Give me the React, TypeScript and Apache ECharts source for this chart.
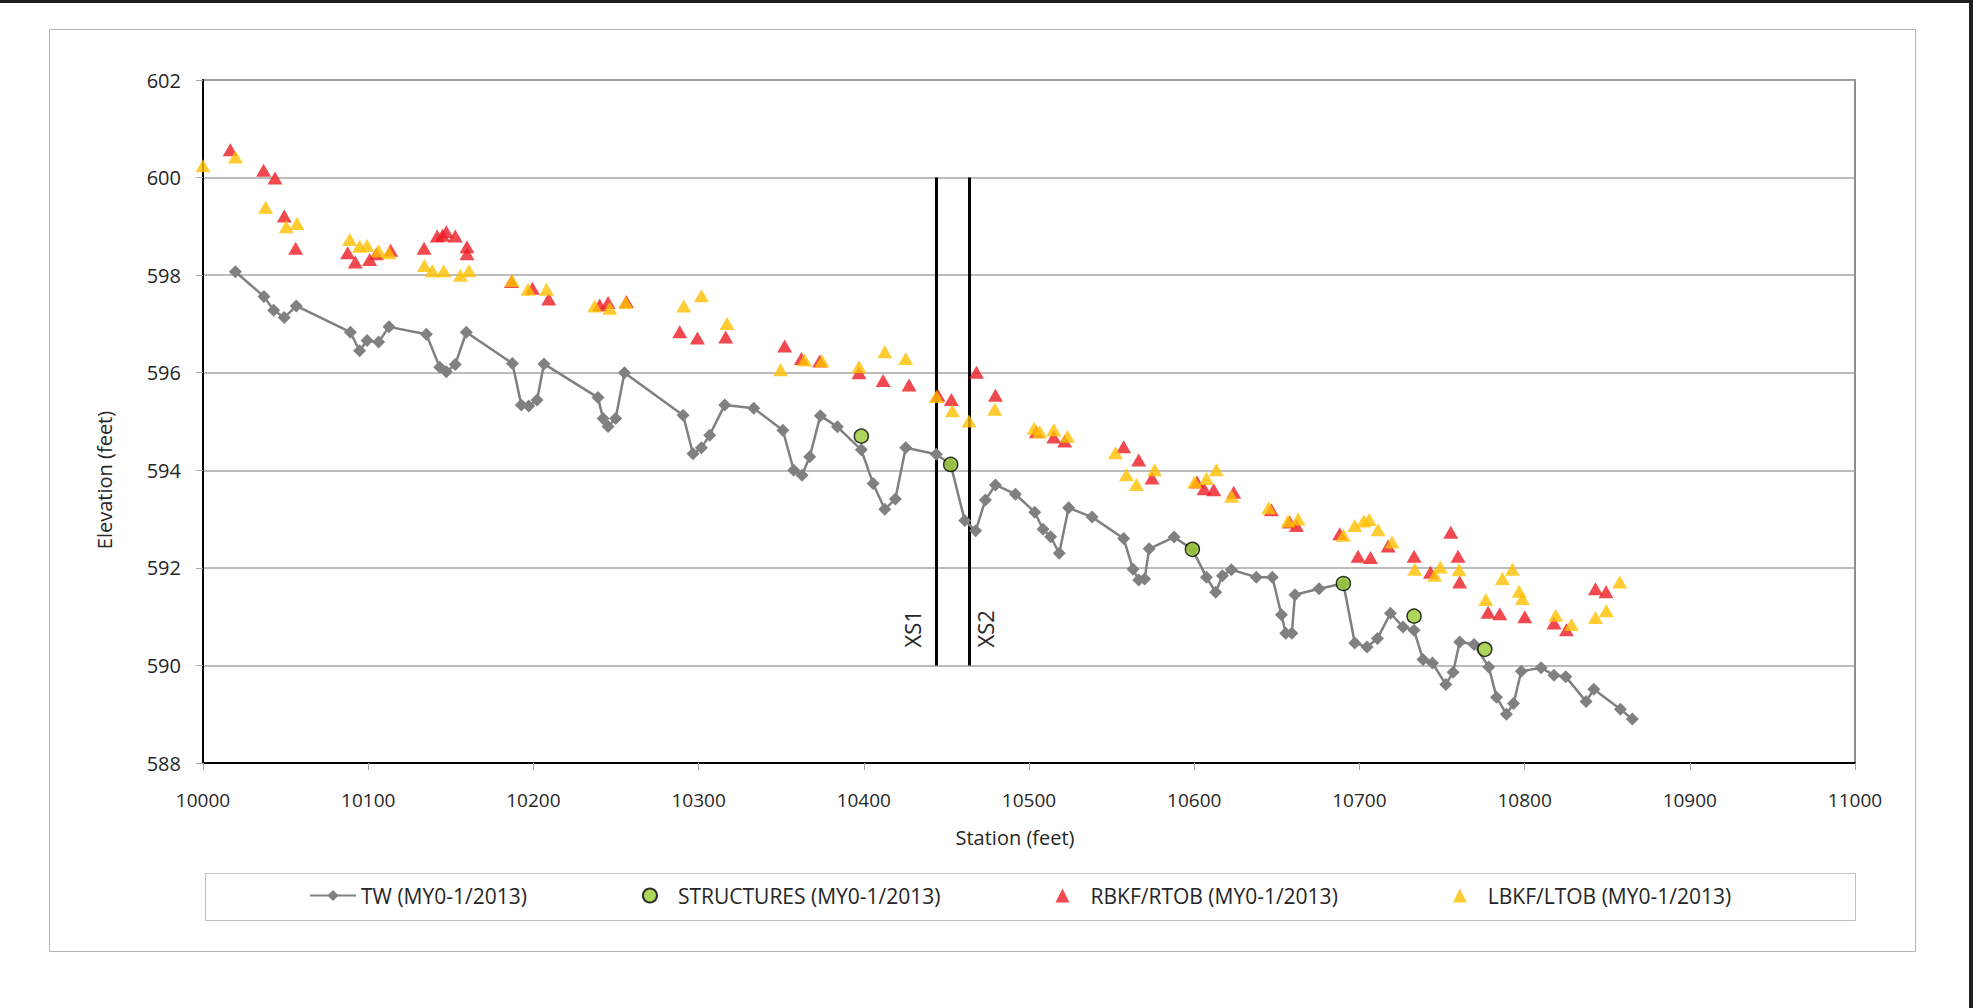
import React, { useEffect, useRef } from "react";
import * as echarts from "echarts";

// Thalweg (TW) profile, MY0-1/2013
const twStation = [
  10019.6, 10036.9, 10042.8, 10049.2, 10056.5, 10089.2, 10094.8, 10099.3, 10106.3, 10112.6,
  10135.2, 10143.3, 10147.3, 10152.7, 10159.4, 10187.3, 10192.7, 10197.2, 10202.2, 10206.4,
  10239.1, 10242.2, 10245.2, 10249.8, 10255.1, 10290.6, 10296.6, 10301.7, 10306.7, 10315.8,
  10333.4, 10351.0, 10357.6, 10362.6, 10367.3, 10373.7, 10384.0, 10398.5, 10405.6, 10412.7,
  10419.1, 10425.4, 10443.9, 10452.6, 10461.1, 10467.7, 10473.6, 10479.7, 10491.8, 10503.5,
  10508.5, 10513.1, 10518.3, 10524.0, 10538.2, 10557.3, 10563.0, 10566.4, 10570.0, 10572.7,
  10587.8, 10598.9, 10607.4, 10613.0, 10617.1, 10622.5, 10637.6, 10647.3, 10652.8, 10655.4,
  10659.1, 10661.0, 10675.6, 10690.3, 10697.2, 10704.6, 10710.9, 10718.8, 10726.4, 10733.1,
  10738.5, 10744.2, 10752.3, 10756.7, 10760.7, 10769.4, 10778.3, 10783.0, 10789.0, 10793.3,
  10798.0, 10810.0, 10817.8, 10824.9, 10837.2, 10841.9, 10858.0, 10865.2,
];
const twElevation = [
  598.07, 597.56, 597.28, 597.13, 597.37, 596.83, 596.45, 596.66, 596.63, 596.94,
  596.79, 596.11, 596.02, 596.17, 596.83, 596.19, 595.34, 595.32, 595.44, 596.18,
  595.49, 595.06, 594.9, 595.06, 596.0, 595.13, 594.34, 594.46, 594.72, 595.34,
  595.27, 594.82, 594.0, 593.9, 594.28, 595.12, 594.89, 594.42, 593.73, 593.2,
  593.41, 594.46, 594.33, 594.12, 592.97, 592.76, 593.39, 593.7, 593.51, 593.14,
  592.79, 592.64, 592.3, 593.23, 593.04, 592.6, 591.97, 591.75, 591.77, 592.39,
  592.63, 592.38, 591.81, 591.5, 591.84, 591.96, 591.81, 591.81, 591.04, 590.66,
  590.66, 591.45, 591.57, 591.68, 590.46, 590.38, 590.55, 591.07, 590.79, 590.72,
  590.12, 590.05, 589.61, 589.86, 590.48, 590.43, 589.97, 589.35, 589.0, 589.22,
  589.88, 589.95, 589.8, 589.77, 589.26, 589.51, 589.1, 588.9,
];

// Structures, MY0-1/2013
const structStation = [10398.5, 10452.6, 10598.9, 10690.3, 10733.1, 10775.9];
const structElevation = [594.7, 594.12, 592.38, 591.68, 591.01, 590.33];

// Right bankfull / right top of bank
const rbkfStation = [
  10016.5, 10036.7, 10043.6, 10049.2, 10056.1, 10087.6, 10092.2, 10100.9, 10105.0, 10113.6,
  10133.8, 10141.8, 10145.0, 10147.3, 10152.7, 10159.8, 10159.8, 10186.7, 10199.4, 10209.3,
  10240.1, 10245.2, 10256.3, 10288.6, 10299.3, 10316.4, 10352.1, 10362.2, 10373.3, 10397.1,
  10411.7, 10427.4, 10444.9, 10453.0, 10468.2, 10479.7, 10504.5, 10515.0, 10521.6, 10557.3,
  10566.4, 10574.5, 10601.7, 10606.0, 10611.8, 10623.9, 10646.7, 10657.8, 10661.9, 10688.1,
  10699.2, 10706.7, 10717.4, 10733.1, 10743.0, 10755.3, 10759.7, 10760.7, 10777.9, 10785.0,
  10800.1, 10817.8, 10825.3, 10842.9, 10849.3,
];
const rbkfElevation = [
  600.57, 600.15, 599.99, 599.21, 598.55, 598.46, 598.27, 598.32, 598.44, 598.51,
  598.55, 598.8, 598.82, 598.89, 598.8, 598.58, 598.44, 597.87, 597.73, 597.51,
  597.39, 597.44, 597.46, 596.84, 596.71, 596.73, 596.55, 596.29, 596.24, 596.0,
  595.84, 595.75, 595.54, 595.45, 596.01, 595.54, 594.79, 594.68, 594.6, 594.48,
  594.21, 593.84, 593.76, 593.62, 593.6, 593.55, 593.19, 592.94, 592.87, 592.7,
  592.24, 592.21, 592.45, 592.24, 591.91, 592.73, 592.24, 591.71, 591.09, 591.06,
  591.0, 590.87, 590.73, 591.57, 591.51,
];

// Left bankfull / left top of bank
const lbkfStation = [
  10000.0, 10019.6, 10037.9, 10050.4, 10056.9, 10088.8, 10094.8, 10099.3, 10106.3, 10112.6,
  10134.0, 10138.8, 10145.7, 10155.8, 10161.0, 10187.1, 10196.8, 10207.9, 10237.1, 10246.2,
  10255.9, 10291.0, 10301.7, 10317.2, 10349.6, 10364.2, 10374.7, 10397.1, 10412.7, 10425.4,
  10443.9, 10453.6, 10463.7, 10479.3, 10503.1, 10506.5, 10515.0, 10523.3, 10552.3, 10559.0,
  10565.0, 10576.1, 10600.3, 10607.4, 10613.4, 10622.7, 10645.1, 10656.8, 10662.9, 10690.3,
  10697.2, 10702.6, 10705.9, 10711.3, 10719.8, 10733.5, 10745.6, 10749.0, 10760.3, 10776.5,
  10786.6, 10792.6, 10796.7, 10798.7, 10818.9, 10828.3, 10842.9, 10849.5, 10857.6,
];
const lbkfElevation = [
  600.24, 600.42, 599.39, 598.99, 599.06, 598.73, 598.59, 598.61, 598.5, 598.46,
  598.2, 598.09, 598.09, 598.0, 598.09, 597.89, 597.71, 597.71, 597.37, 597.32,
  597.44, 597.37, 597.58, 597.01, 596.06, 596.26, 596.24, 596.12, 596.43, 596.29,
  595.51, 595.22, 595.01, 595.25, 594.86, 594.79, 594.83, 594.7, 594.36, 593.91,
  593.71, 594.01, 593.76, 593.83, 594.01, 593.47, 593.23, 592.96, 593.0, 592.67,
  592.87, 592.96, 592.99, 592.78, 592.53, 591.97, 591.85, 592.02, 591.96, 591.35,
  591.78, 591.97, 591.52, 591.37, 591.03, 590.84, 590.98, 591.12, 591.71,
];

// Cross-section locations
const xsNames = ["XS1", "XS2"];
const xsStation = [10444, 10464];
const xsTop = 600;
const xsBottom = 590;
const xsLabelElevation = 590.75;

const seriesNames = [
  "TW (MY0-1/2013)",
  "STRUCTURES (MY0-1/2013)",
  "RBKF/RTOB (MY0-1/2013)",
  "LBKF/LTOB (MY0-1/2013)",
];

const FONT = "'Open Sans', 'DejaVu Sans', sans-serif";
const TEXT = "#262626";
const TRIANGLE_ICON = "path://M0,12L6,0L12,12Z";

const zip = (a: number[], b: number[]) => a.map((v, i) => [v, b[i]]);

export default function App() {
  const ref = useRef<HTMLDivElement>(null);

  useEffect(() => {
    if (!ref.current) return;
    const chart = echarts.init(ref.current, null, { renderer: "svg" });

    const option: any = {
      animation: false,
      backgroundColor: "#ffffff",
      textStyle: { fontFamily: FONT },
      grid: {
        left: 203,
        top: 80,
        width: 1652,
        height: 683,
        show: true,
        borderColor: "#8c8c8c",
        borderWidth: 2,
        backgroundColor: "transparent",
      },
      legend: {
        data: [
          { name: seriesNames[0] },
          { name: seriesNames[1], icon: "circle" },
          { name: seriesNames[2], icon: TRIANGLE_ICON },
          { name: seriesNames[3], icon: TRIANGLE_ICON },
        ],
        left: 309,
        top: 885,
        padding: 0,
        itemWidth: 46,
        itemHeight: 14,
        itemGap: 115,
        symbolKeepAspect: true,
        textStyle: { fontSize: 21, color: TEXT, fontFamily: FONT },
      },
      xAxis: {
        type: "value",
        min: 10000,
        max: 11000,
        interval: 100,
        axisLine: { show: true, onZero: false, lineStyle: { color: "#000", width: 2 } },
        axisTick: { show: true, length: 7, lineStyle: { color: "#a6a6a6", width: 1 } },
        axisLabel: {
          fontSize: 19,
          color: TEXT,
          margin: 27,
          fontFamily: FONT,
          formatter: (v: number) => String(v),
        },
        splitLine: { show: false },
      },
      yAxis: {
        type: "value",
        min: 588,
        max: 602,
        interval: 2,
        axisLine: { show: true, onZero: false, lineStyle: { color: "#000", width: 2 } },
        axisTick: { show: true, length: 7, lineStyle: { color: "#a6a6a6", width: 1 } },
        axisLabel: { fontSize: 20, color: TEXT, margin: 22, fontFamily: FONT },
        splitLine: { show: true, lineStyle: { color: "#a6a6a6", width: 1.5 } },
      },
      series: [
        ...xsNames.map((n, i) => ({
          name: n,
          type: "line",
          data: [
            [xsStation[i], xsTop],
            [xsStation[i], xsBottom],
          ],
          symbol: "none",
          silent: true,
          lineStyle: { color: "#000", width: 3 },
          z: 1,
        })),
        {
          name: seriesNames[0],
          type: "line",
          data: zip(twStation, twElevation),
          symbol: "diamond",
          symbolSize: 13,
          showAllSymbol: true,
          itemStyle: { color: "#808080" },
          lineStyle: { color: "#808080", width: 2.5 },
          z: 2,
        },
        {
          name: seriesNames[1],
          type: "scatter",
          data: zip(structStation, structElevation),
          symbol: "circle",
          symbolSize: 14,
          itemStyle: { color: "#9acc34", borderColor: "#000", borderWidth: 1.5 },
          z: 3,
        },
        {
          name: seriesNames[2],
          type: "scatter",
          data: zip(rbkfStation, rbkfElevation),
          symbol: "triangle",
          symbolSize: [15, 13],
          itemStyle: { color: "#ec1c24" },
          z: 4,
        },
        {
          name: seriesNames[3],
          type: "scatter",
          data: zip(lbkfStation, lbkfElevation),
          symbol: "triangle",
          symbolSize: [15, 13],
          itemStyle: { color: "#ffc000" },
          z: 5,
        },
      ],
    };

    chart.setOption(option);

    // Cross-section labels sit beside their vertical lines
    const xsOffsets = [-24, 15];
    const xsLabels = xsNames.map((n, i) => {
      const p = chart.convertToPixel({ gridIndex: 0 }, [xsStation[i], xsLabelElevation]) as number[];
      return {
        type: "text",
        x: p[0] + xsOffsets[i],
        y: p[1],
        rotation: Math.PI / 2,
        z: 10,
        style: {
          text: n,
          fontSize: 22,
          fill: TEXT,
          fontFamily: FONT,
          align: "center",
          verticalAlign: "middle",
        },
      };
    });

    chart.setOption({
      graphic: [
        // outer chart border
        {
          type: "rect",
          z: -1,
          shape: { x: 49.5, y: 29.5, width: 1866, height: 922 },
          style: { fill: "none", stroke: "#b4b4b4", lineWidth: 1 },
        },
        // legend frame
        {
          type: "rect",
          z: -1,
          shape: { x: 205.5, y: 873.5, width: 1650, height: 47 },
          style: { fill: "#fff", stroke: "#bfbfbf", lineWidth: 1 },
        },
        // page edges
        { type: "rect", z: 20, shape: { x: 0, y: 0, width: 1973, height: 3 }, style: { fill: "#1f1f1f" } },
        { type: "rect", z: 20, shape: { x: 1969, y: 0, width: 4, height: 1008 }, style: { fill: "#1f1f1f" } },
        // axis titles
        {
          type: "text",
          x: 104,
          y: 480,
          rotation: Math.PI / 2,
          style: {
            text: "Elevation (feet)",
            fontSize: 20,
            fill: TEXT,
            fontFamily: FONT,
            align: "center",
            verticalAlign: "middle",
          },
        },
        {
          type: "text",
          x: 1015,
          y: 837,
          style: {
            text: "Station (feet)",
            fontSize: 20,
            fill: TEXT,
            fontFamily: FONT,
            align: "center",
            verticalAlign: "middle",
          },
        },
        ...xsLabels,
      ],
    });

    return () => chart.dispose();
  }, []);

  return (
    <div
      ref={ref}
      style={{ position: "fixed", left: 0, top: 0, width: 1973, height: 1008, background: "#fff" }}
    />
  );
}
